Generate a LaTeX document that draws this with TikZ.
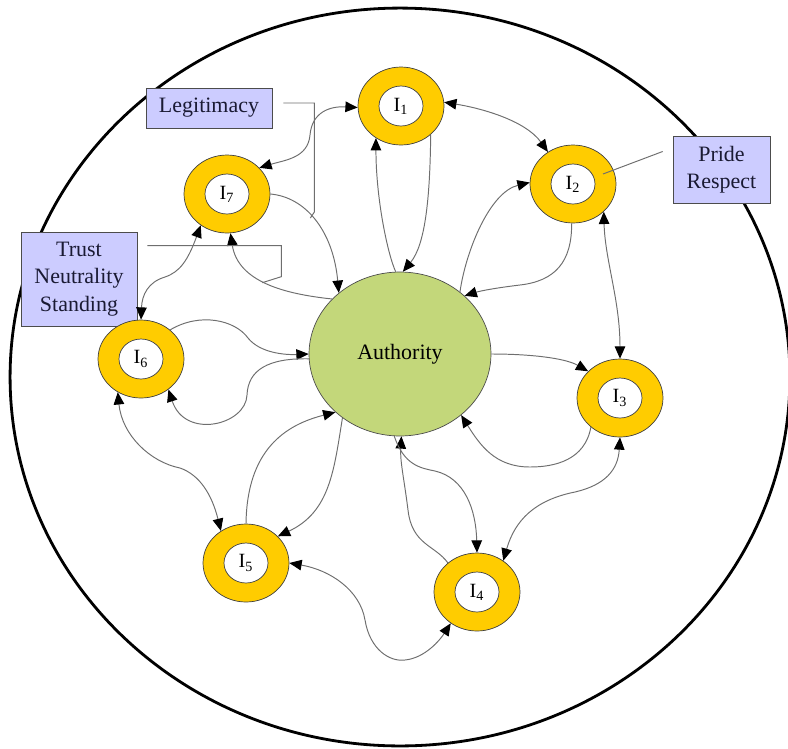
\documentclass[tikz,border=0pt]{standalone}
\usepackage{fontspec}
\setmainfont{Liberation Serif}
\usetikzlibrary{arrows.meta,shapes.geometric}
\definecolor{ringy}{HTML}{FFCC00}
\definecolor{authg}{HTML}{C3D77A}
\definecolor{boxc}{HTML}{CCCCFF}
\definecolor{wire}{HTML}{6E6E6E}
\definecolor{txt}{HTML}{1A1A33}

\begin{document}
\begin{tikzpicture}[
  x=0.02cm, y=-0.02cm,
  >={Triangle[length=7pt,width=6pt,color=black]},
  ringnode/.style={ellipse, draw=black!75, fill=ringy, line width=0.4pt, minimum width=1.72cm, minimum height=1.56cm, inner sep=0pt},
  hole/.style={ellipse, draw=black!75, fill=white, line width=0.4pt, minimum width=0.88cm, minimum height=0.8cm, inner sep=0pt, font=\rmfamily\fontsize{11.5}{13}\selectfont},
  authnode/.style={ellipse, draw=black!70, fill=authg, minimum width=3.64cm, minimum height=3.28cm, font=\rmfamily\fontsize{12.5}{15}\selectfont},
  tagbox/.style={draw=black!70, fill=boxc, align=center, inner sep=2pt, font=\rmfamily\fontsize{12.5}{15.5}\selectfont, text=txt},
  arr/.style={->, draw=wire, line width=0.55pt},
  darr/.style={<->, draw=wire, line width=0.55pt},
  brk/.style={draw=wire, line width=0.55pt},
]
\useasboundingbox (0,0) rectangle (788,748);

\node[draw, ellipse, line width=1.6pt, minimum width=15.6cm, minimum height=14.76cm] (rim) at (400,377) {};

\node[tagbox, minimum width=2.52cm, minimum height=0.8cm] (legit) at (209,108) {Legitimacy};
\node[tagbox, minimum width=2.32cm, minimum height=1.88cm] (trust) at (79,279) {Trust\\Neutrality\\Standing};
\node[tagbox, minimum width=1.94cm, minimum height=1.34cm] (pride) at (721.5,169.5) {Pride\\Respect};

\node[authnode] (auth) at (400,354) {Authority};

\foreach \n/\x/\y in {1/401/106, 2/573/184, 3/620/398, 4/477/592, 5/246/563, 6/141/359, 7/227/194} {
  \node[ringnode] (I\n) at (\x,\y) {};
  \node[hole] (h\n) at (\x,\y) {I\textsubscript{\n}};
}

% between the rings
\draw[darr] (I1.5) .. controls (480,108) and (525,120) .. (I2.128);
\draw[darr] (I1.182) .. controls (330,106) and (312,112) .. (310,135) .. controls (308,158) and (285,160) .. (I7.39);
\draw[darr] (I2.318) .. controls (605,260) and (620,300) .. (I3.90);
\draw[darr] (I4.50) .. controls (515,520) and (535,500) .. (575,492) .. controls (605,485) and (618,470) .. (I3.270);
\draw[darr] (I5.0) .. controls (330,570) and (360,590) .. (365,620) .. controls (370,650) and (390,662) .. (405,660) .. controls (425,658) and (440,640) .. (I4.230);
\draw[darr] (I6.235) .. controls (122,435) and (150,462) .. (180,468) .. controls (200,475) and (212,495) .. (I5.128);
\draw[darr] (I7.230) .. controls (188,260) and (180,272) .. (165,277) .. controls (148,282) and (142,295) .. (I6.90);

% to and from the authority
\draw[arr] (I1.316) .. controls (430,200) and (425,245) .. (auth.88);
\draw[arr] (auth.93) .. controls (388,255) and (376,200) .. (I1.232);
\draw[arr] (I2.268) .. controls (572,262) and (555,281) .. (520,285) .. controls (495,288) and (480,291) .. (auth.42);
\draw[arr] (auth.46) .. controls (466,250) and (490,192) .. (I2.178);
\draw[arr] (auth.0) .. controls (530,354) and (565,358) .. (I3.140);
\draw[arr] (I3.225) .. controls (585,460) and (555,467) .. (530,467) .. controls (495,467) and (480,445) .. (auth.315);
\draw[arr] (I4.135) .. controls (435,545) and (412,545) .. (408,510) .. controls (404,478) and (400,462) .. (auth.271);
\draw[arr] (auth.266) .. controls (404,465) and (420,468) .. (435,471) .. controls (465,478) and (476,510) .. (I4.90);
\draw[arr] (I5.90) .. controls (247,450) and (285,425) .. (auth.222);
\draw[arr] (auth.228) .. controls (334,470) and (330,512) .. (I5.40);
\draw[arr] (I6.45) .. controls (200,312) and (235,320) .. (248,338) .. controls (260,353) and (285,355) .. (auth.180);
\draw[arr] (auth.183) .. controls (268,358) and (248,370) .. (247,395) .. controls (246,425) and (185,440) .. (I6.312);
\draw[arr] (I7.0) .. controls (305,197) and (333,230) .. (auth.135);
\draw[arr] (auth.141) .. controls (285,294) and (238,282) .. (I7.275);

% brackets from the boxes
\draw[brk] ([shift={(11,-5)}]legit.east) -- ++(31,0) -- ++(0,109) -- ++(-4,6);
\draw[brk] ([shift={(10,14)}]trust.north east) -- ++(134,0) -- ++(0,31) -- ++(-19,6);
\draw[brk] ([shift={(-10,-18)}]pride.west) -- ([shift={(30,-10)}]I2.center);

\end{tikzpicture}
\end{document}
